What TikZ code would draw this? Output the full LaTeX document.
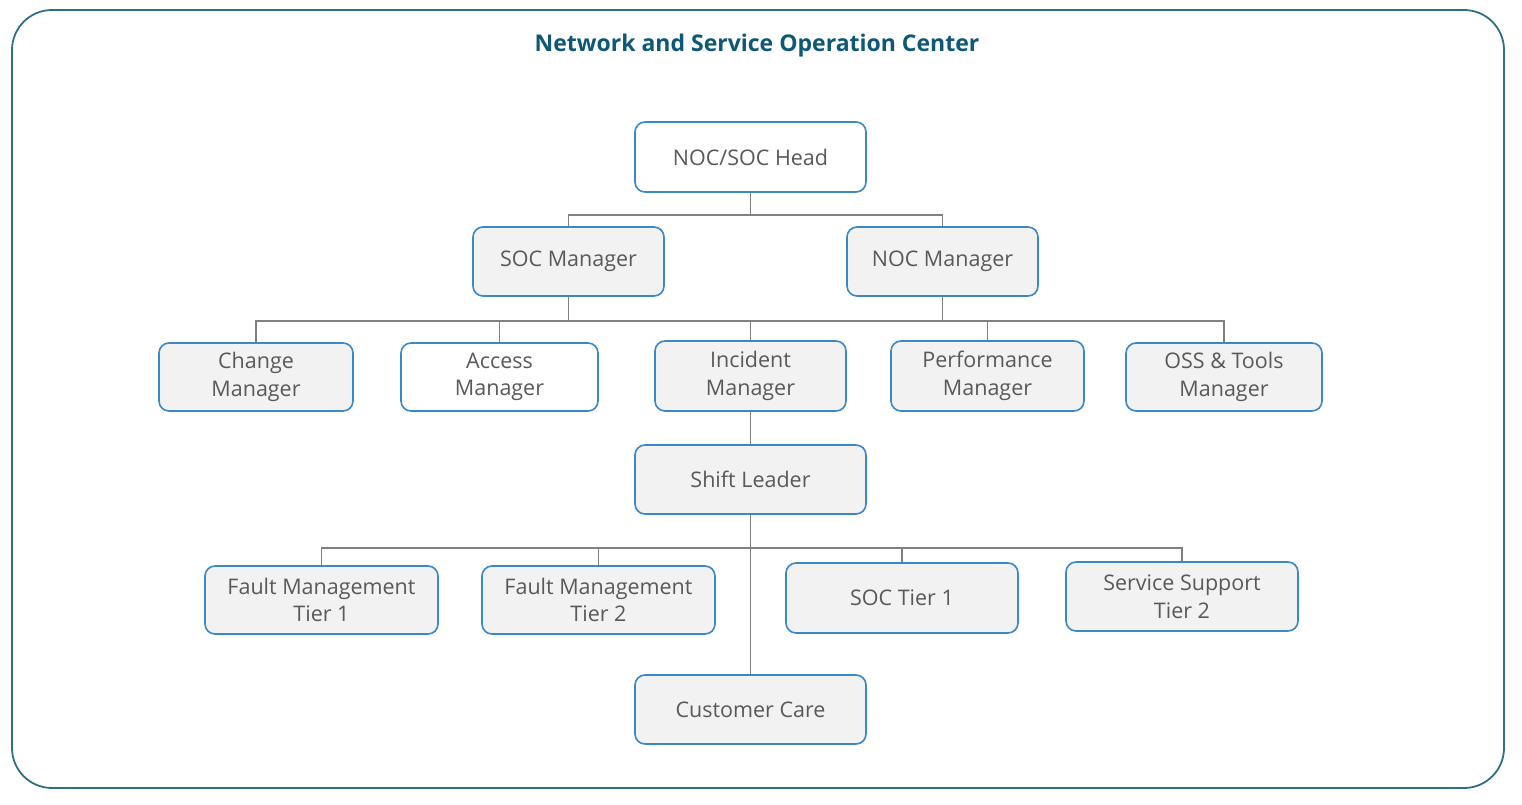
\documentclass[tikz,border=0pt]{standalone}
\usepackage{fontspec}
\setmainfont{Open Sans}
\definecolor{frame}{HTML}{2F6F86}
\definecolor{titlec}{HTML}{0D5877}
\definecolor{boxline}{HTML}{3A88C8}
\definecolor{boxfill}{HTML}{F2F2F2}
\definecolor{txt}{HTML}{595959}
\definecolor{conn}{HTML}{808080}
\begin{document}
\begin{tikzpicture}[x=1pt,y=-1pt,
  orgbox/.style={draw=boxline, line width=1.6pt, rounded corners=10pt, fill=boxfill,
    text=txt, font=\fontsize{21.5}{27.5}\selectfont, align=center, inner sep=0pt},
  whitebox/.style={orgbox, fill=white},
  link/.style={draw=conn, line width=1.4pt}]
\useasboundingbox (0,0) rectangle (1522,805);
\draw[frame, line width=1.8pt, rounded corners=40pt] (12,10) rectangle (1504,788);
\node[font=\bfseries\fontsize{23}{26}\selectfont, text=titlec] (title) at (757,46) {Network and Service Operation Center};

\node[whitebox, minimum width=231pt, minimum height=70pt] (head) at (750.5,157) {NOC/SOC Head};
\node[orgbox, minimum width=191pt, minimum height=69pt] (socm) at (568.5,261.5) {SOC Manager};
\node[orgbox, minimum width=191pt, minimum height=69pt] (nocm) at (942.5,261.5) {NOC Manager};

\node[orgbox, minimum width=194pt, minimum height=68pt] (chg) at (256,377) {Change\\Manager};
\node[whitebox, minimum width=197pt, minimum height=68pt] (acc) at (499.5,377) {Access\\Manager};
\node[orgbox, minimum width=191pt, minimum height=70pt] (inc) at (750.5,376) {Incident\\Manager};
\node[orgbox, minimum width=193pt, minimum height=70pt] (perf) at (987.5,376) {Performance\\Manager};
\node[orgbox, minimum width=196pt, minimum height=68pt] (oss) at (1224,377) {OSS \& Tools\\Manager};

\node[orgbox, minimum width=231pt, minimum height=69pt] (shift) at (750.5,479.5) {Shift Leader};

\node[orgbox, minimum width=233pt, minimum height=68pt] (fm1) at (321.5,600) {Fault Management\\Tier 1};
\node[orgbox, minimum width=233pt, minimum height=68pt] (fm2) at (598.5,600) {Fault Management\\Tier 2};
\node[orgbox, minimum width=232pt, minimum height=70pt] (soc1) at (902,598) {SOC Tier 1};
\node[orgbox, minimum width=232pt, minimum height=69pt] (ss2) at (1182,596.5) {Service Support\\Tier 2};
\node[orgbox, minimum width=231pt, minimum height=69pt] (cc) at (750.5,709.5) {Customer Care};

% level 1 -> 2
\draw[link] (head.south) -- ++(0,22) coordinate (h1);
\draw[link] (socm.north) |- (h1) -| (nocm.north);
% level 2 -> 3
\coordinate (bar) at (0,321);
\draw[link] (socm.south) -- (socm.south |- bar);
\draw[link] (nocm.south) -- (nocm.south |- bar);
\draw[link] (chg.north) |- (bar -| oss.north) -- (oss.north);
\draw[link] (acc.north) -- (acc.north |- bar);
\draw[link] (inc.north) -- (inc.north |- bar);
\draw[link] (perf.north) -- (perf.north |- bar);
% incident -> shift
\draw[link] (inc.south) -- (shift.north);
% shift -> tier
\coordinate (bar2) at (0,548);
\draw[link] (shift.south) -- (cc.north);
\draw[link] (fm1.north) |- (bar2 -| ss2.north) -- (ss2.north);
\draw[link] (fm2.north) -- (fm2.north |- bar2);
\draw[link] (soc1.north) -- (soc1.north |- bar2);
\end{tikzpicture}
\end{document}
